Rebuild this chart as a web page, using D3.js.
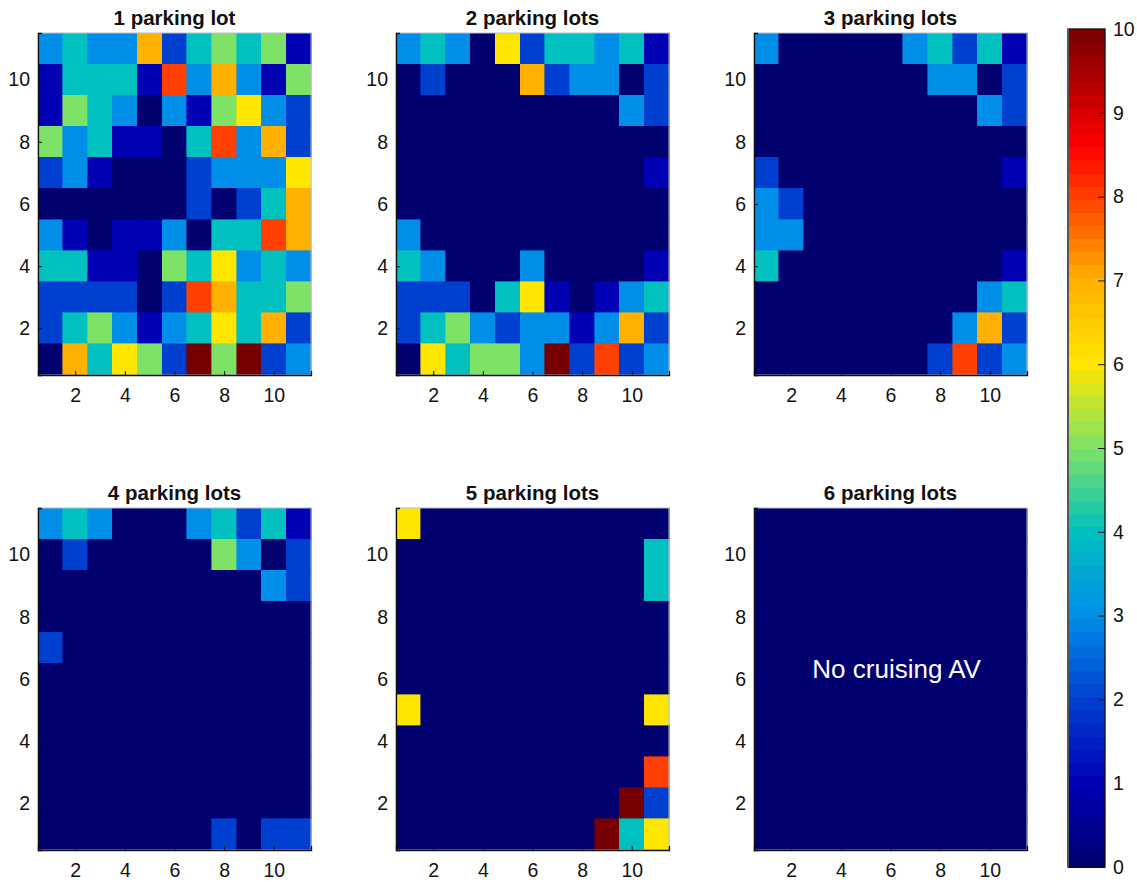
<!DOCTYPE html>
<html>
<head>
<meta charset="utf-8">
<script src="https://cdn.jsdelivr.net/npm/d3@7"></script>
<style>
  html, body { margin: 0; padding: 0; background: #fff; }
  svg { display: block; font-family: "Liberation Sans", Arial, Helvetica, sans-serif; }
</style>
</head>
<body>
<svg id="chart" width="1137" height="882"></svg>
<script>
// ---------- DATA (rows listed from y = 11 at top down to y = 1) ----------
const titles = ["1 parking lot", "2 parking lots", "3 parking lots",
                "4 parking lots", "5 parking lots", "6 parking lots"];

const lot1 = [
  [3, 4, 3, 3, 7, 2, 4, 5, 4, 5, 1],
  [1, 4, 4, 4, 1, 8, 3, 7, 3, 1, 5],
  [1, 5, 4, 3, 0, 3, 1, 5, 6, 3, 2],
  [5, 3, 4, 1, 1, 0, 4, 8, 3, 7, 2],
  [2, 3, 1, 0, 0, 0, 2, 3, 3, 3, 6],
  [0, 0, 0, 0, 0, 0, 2, 0, 2, 4, 7],
  [3, 1, 0, 1, 1, 3, 0, 4, 4, 8, 7],
  [4, 4, 1, 1, 0, 5, 4, 6, 3, 4, 3],
  [2, 2, 2, 2, 0, 2, 8, 7, 4, 4, 5],
  [2, 4, 5, 3, 1, 3, 4, 6, 4, 7, 2],
  [0, 7, 4, 6, 5, 2, 10, 5, 10, 2, 3]
];
const lot2 = [
  [3, 4, 3, 0, 6, 2, 4, 4, 3, 4, 1],
  [0, 2, 0, 0, 0, 7, 2, 3, 3, 0, 2],
  [0, 0, 0, 0, 0, 0, 0, 0, 0, 3, 2],
  [0, 0, 0, 0, 0, 0, 0, 0, 0, 0, 0],
  [0, 0, 0, 0, 0, 0, 0, 0, 0, 0, 1],
  [0, 0, 0, 0, 0, 0, 0, 0, 0, 0, 0],
  [3, 0, 0, 0, 0, 0, 0, 0, 0, 0, 0],
  [4, 3, 0, 0, 0, 3, 0, 0, 0, 0, 1],
  [2, 2, 2, 0, 4, 6, 1, 0, 1, 3, 4],
  [2, 4, 5, 3, 2, 3, 3, 1, 3, 7, 2],
  [0, 6, 4, 5, 5, 3, 10, 2, 8, 2, 3]
];
const lot3 = [
  [3, 0, 0, 0, 0, 0, 3, 4, 2, 4, 1],
  [0, 0, 0, 0, 0, 0, 0, 3, 3, 0, 2],
  [0, 0, 0, 0, 0, 0, 0, 0, 0, 3, 2],
  [0, 0, 0, 0, 0, 0, 0, 0, 0, 0, 0],
  [2, 0, 0, 0, 0, 0, 0, 0, 0, 0, 1],
  [3, 2, 0, 0, 0, 0, 0, 0, 0, 0, 0],
  [3, 3, 0, 0, 0, 0, 0, 0, 0, 0, 0],
  [4, 0, 0, 0, 0, 0, 0, 0, 0, 0, 1],
  [0, 0, 0, 0, 0, 0, 0, 0, 0, 3, 4],
  [0, 0, 0, 0, 0, 0, 0, 0, 3, 7, 2],
  [0, 0, 0, 0, 0, 0, 0, 2, 8, 2, 3]
];
const lot4 = [
  [3, 4, 3, 0, 0, 0, 3, 4, 2, 4, 1],
  [0, 2, 0, 0, 0, 0, 0, 5, 3, 0, 2],
  [0, 0, 0, 0, 0, 0, 0, 0, 0, 3, 2],
  [0, 0, 0, 0, 0, 0, 0, 0, 0, 0, 0],
  [2, 0, 0, 0, 0, 0, 0, 0, 0, 0, 0],
  [0, 0, 0, 0, 0, 0, 0, 0, 0, 0, 0],
  [0, 0, 0, 0, 0, 0, 0, 0, 0, 0, 0],
  [0, 0, 0, 0, 0, 0, 0, 0, 0, 0, 0],
  [0, 0, 0, 0, 0, 0, 0, 0, 0, 0, 0],
  [0, 0, 0, 0, 0, 0, 0, 0, 0, 0, 0],
  [0, 0, 0, 0, 0, 0, 0, 2, 0, 2, 2]
];
const lot5 = [
  [6, 0, 0, 0, 0, 0, 0, 0, 0, 0, 0],
  [0, 0, 0, 0, 0, 0, 0, 0, 0, 0, 4],
  [0, 0, 0, 0, 0, 0, 0, 0, 0, 0, 4],
  [0, 0, 0, 0, 0, 0, 0, 0, 0, 0, 0],
  [0, 0, 0, 0, 0, 0, 0, 0, 0, 0, 0],
  [0, 0, 0, 0, 0, 0, 0, 0, 0, 0, 0],
  [6, 0, 0, 0, 0, 0, 0, 0, 0, 0, 6],
  [0, 0, 0, 0, 0, 0, 0, 0, 0, 0, 0],
  [0, 0, 0, 0, 0, 0, 0, 0, 0, 0, 8],
  [0, 0, 0, 0, 0, 0, 0, 0, 0, 10, 2],
  [0, 0, 0, 0, 0, 0, 0, 0, 10, 4, 6]
];
const lot6 = [
  [0, 0, 0, 0, 0, 0, 0, 0, 0, 0, 0],
  [0, 0, 0, 0, 0, 0, 0, 0, 0, 0, 0],
  [0, 0, 0, 0, 0, 0, 0, 0, 0, 0, 0],
  [0, 0, 0, 0, 0, 0, 0, 0, 0, 0, 0],
  [0, 0, 0, 0, 0, 0, 0, 0, 0, 0, 0],
  [0, 0, 0, 0, 0, 0, 0, 0, 0, 0, 0],
  [0, 0, 0, 0, 0, 0, 0, 0, 0, 0, 0],
  [0, 0, 0, 0, 0, 0, 0, 0, 0, 0, 0],
  [0, 0, 0, 0, 0, 0, 0, 0, 0, 0, 0],
  [0, 0, 0, 0, 0, 0, 0, 0, 0, 0, 0],
  [0, 0, 0, 0, 0, 0, 0, 0, 0, 0, 0]
];

const axisTicks = [2, 4, 6, 8, 10];
const colorbarTicks = [0, 1, 2, 3, 4, 5, 6, 7, 8, 9, 10];
const annotation = "No cruising AV";

// colormap anchors (jet-like, as it appears in the picture)
const cmapValues = [0, 1, 2, 3, 4, 5, 6, 7, 8, 8.6, 9, 10];
const cmapColors = ["#000070", "#0000b4", "#0040d0", "#008ee8", "#00c0c0", "#7ee266",
                    "#ffe600", "#ffb000", "#ff4000", "#ff0000", "#d80000", "#760000"];

// ---------- DRAW ----------
const grids = [lot1, lot2, lot3, lot4, lot5, lot6];
const svg = d3.select("#chart");
const color = d3.scaleLinear().domain(cmapValues).range(cmapColors).interpolate(d3.interpolateRgb).clamp(true);
const tickFont = "19.5px";

const colX = [38, 396, 754];
const rowY = [33, 508];
const pw = 273, ph = 342;

grids.forEach((grid, k) => {
  const ox = colX[k % 3], oy = rowY[Math.floor(k / 3)];
  const g = svg.append("g").attr("transform", `translate(${ox},${oy})`);
  const x = d3.scaleLinear().domain([0.5, 11.5]).range([0, pw]);
  const y = d3.scaleLinear().domain([0.5, 11.5]).range([ph, 0]);

  const cells = [];
  grid.forEach((row, r) => row.forEach((v, c) => cells.push({ xi: c + 1, yi: 11 - r, v })));

  g.selectAll("rect.cell").data(cells).join("rect")
    .attr("class", "cell")
    .attr("x", d => x(d.xi - 0.5))
    .attr("y", d => y(d.yi + 0.5))
    .attr("width", d => x(d.xi + 0.5) - x(d.xi - 0.5))
    .attr("height", d => y(d.yi - 0.5) - y(d.yi + 0.5))
    .attr("fill", d => color(d.v))
    .attr("stroke", d => color(d.v))
    .attr("stroke-width", 0.6)
    .attr("shape-rendering", "crispEdges");

  // frame: light top/right, black left/bottom
  g.append("rect").attr("x", 0).attr("y", 0).attr("width", pw).attr("height", ph)
    .attr("fill", "none").attr("stroke", "#b8bccc").attr("stroke-width", 1);

  const xa = g.append("g").attr("transform", `translate(0,${ph})`)
    .call(d3.axisBottom(x).tickValues(axisTicks).tickSize(-4).tickPadding(13).tickFormat(d3.format("d")));
  const ya = g.append("g")
    .call(d3.axisLeft(y).tickValues(axisTicks).tickSize(-4).tickPadding(8).tickFormat(d3.format("d")));
  [xa, ya].forEach(a => {
    a.select(".domain").attr("stroke", "#111").attr("stroke-width", 1.3);
    a.selectAll(".tick line").attr("stroke", "#111");
    a.selectAll(".tick text").attr("fill", "#111").style("font-size", tickFont)
      .style("font-family", "'Liberation Sans', Arial, sans-serif");
  });

  g.append("text").attr("x", pw / 2).attr("y", -8)
    .attr("text-anchor", "middle")
    .style("font-size", "20.5px").style("font-weight", "bold").attr("fill", "#111")
    .text(titles[k]);

  if (k === 5) {
    g.append("text")
      .attr("x", x(2.85)).attr("y", y(6.25))
      .attr("dominant-baseline", "middle")
      .attr("fill", "#fff").style("font-size", "26px")
      .text(annotation);
  }
});

// ---------- COLORBAR ----------
const cbX = 1068, cbW = 37;
const yc = d3.scaleLinear().domain([0, 10]).range([867, 29]);
const nBands = 64;
const bands = d3.range(nBands).map(i => ({ lo: i * 10 / nBands, hi: (i + 1) * 10 / nBands }));
const cb = svg.append("g");
cb.selectAll("rect.band").data(bands).join("rect")
  .attr("class", "band")
  .attr("x", cbX).attr("width", cbW)
  .attr("y", d => yc(d.hi))
  .attr("height", d => yc(d.lo) - yc(d.hi) + 0.5)
  .attr("fill", d => color((d.lo + d.hi) / 2))
  .attr("shape-rendering", "crispEdges");
cb.append("rect").attr("x", cbX).attr("y", yc(10)).attr("width", cbW).attr("height", yc(0) - yc(10))
  .attr("fill", "none").attr("stroke", "#111").attr("stroke-width", 1.3);
cb.append("line").attr("x1", cbX).attr("x2", cbX).attr("y1", yc(10)).attr("y2", yc(0))
  .attr("stroke", "#555").attr("stroke-width", 2);
const cbAxis = cb.append("g").attr("transform", `translate(${cbX + cbW},0)`)
  .call(d3.axisRight(yc).tickValues(colorbarTicks).tickSize(-7).tickPadding(8).tickFormat(d3.format("d")));
cbAxis.select(".domain").remove();
cbAxis.selectAll(".tick line").attr("stroke", "#111");
cbAxis.selectAll(".tick text").attr("fill", "#111").style("font-size", tickFont)
  .style("font-family", "'Liberation Sans', Arial, sans-serif");
</script>
</body>
</html>
